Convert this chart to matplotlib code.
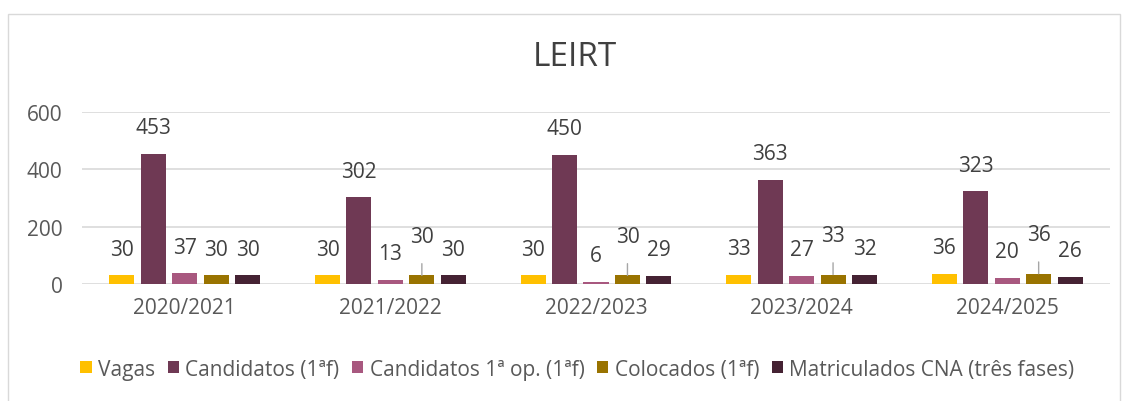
import numpy as np
import matplotlib.pyplot as plt
from matplotlib.patches import Rectangle

plt.rcParams['font.family'] = ['Open Sans', 'DejaVu Sans']

anos = ["2020/2021", "2021/2022", "2022/2023", "2023/2024", "2024/2025"]
vagas = [30, 30, 30, 33, 36]
candidatos = [453, 302, 450, 363, 323]
cand_1op = [37, 13, 6, 27, 20]
colocados = [30, 30, 30, 33, 36]
matriculados = [30, 30, 29, 32, 26]

series = [
    ("Vagas", vagas, "#FFC000"),
    ("Candidatos (1ªf)", candidatos, "#6F3954"),
    ("Candidatos 1ª op. (1ªf)", cand_1op, "#A8587F"),
    ("Colocados (1ªf)", colocados, "#997300"),
    ("Matriculados CNA (três fases)", matriculados, "#452233"),
]
# colocados labels pushed up with a leader line (as Excel did)
raised = [False, True, True, True, True]

fig = plt.figure(figsize=(11.32, 4.02), dpi=100)
fig.patches.append(Rectangle((8 / 1132, -0.05), 1112 / 1132, 1 - 15 / 402 + 0.05,
                             transform=fig.transFigure, fill=False,
                             edgecolor="#D9D9D9", lw=1))
ax = fig.add_axes([82 / 1132, 1 - 285 / 402, (1110 - 82) / 1132, 172 / 402])

x = np.arange(len(anos))
step = 0.153
width = 0.122
txt = "#404040"
for i, (name, vals, col) in enumerate(series):
    pos = x + (i - 2) * step
    ax.bar(pos, vals, width, color=col, label=name, zorder=3)
    for j, v in enumerate(vals):
        if name.startswith("Colocados") and raised[j]:
            ax.annotate(str(v), (pos[j], v), xytext=(0, 28), textcoords="offset points",
                        ha="center", va="center", fontsize=15, color=txt,
                        arrowprops=dict(arrowstyle="-", color="#A6A6A6", lw=1,
                                        shrinkA=10, shrinkB=0))
        else:
            ax.annotate(str(v), (pos[j], v), xytext=(0, 19), textcoords="offset points",
                        ha="center", va="center", fontsize=15, color=txt)

ax.set_xlim(-0.5, len(anos) - 0.5)
ax.set_ylim(0, 600)
ax.set_yticks([0, 200, 400, 600])
ax.set_xticks(x)
ax.set_xticklabels(anos)
ax.tick_params(length=0, labelsize=15, colors="#595959")
ax.tick_params(axis="y", pad=14)
ax.tick_params(axis="x", pad=9)
ax.grid(axis="y", color="#D9D9D9", lw=1.2, zorder=0)
for s in ax.spines.values():
    s.set_visible(False)

fig.text(0.508, 1 - 58 / 402, "LEIRT", ha="center", va="center", fontsize=24, color=txt)

fig.legend(loc="center", bbox_to_anchor=(0.51, 1 - 370 / 402), ncol=5, frameon=False,
           fontsize=15, handlelength=0.55, handleheight=0.55, handletextpad=0.3,
           columnspacing=0.6, labelcolor="#595959")

fig.savefig("out.png", dpi=100)
